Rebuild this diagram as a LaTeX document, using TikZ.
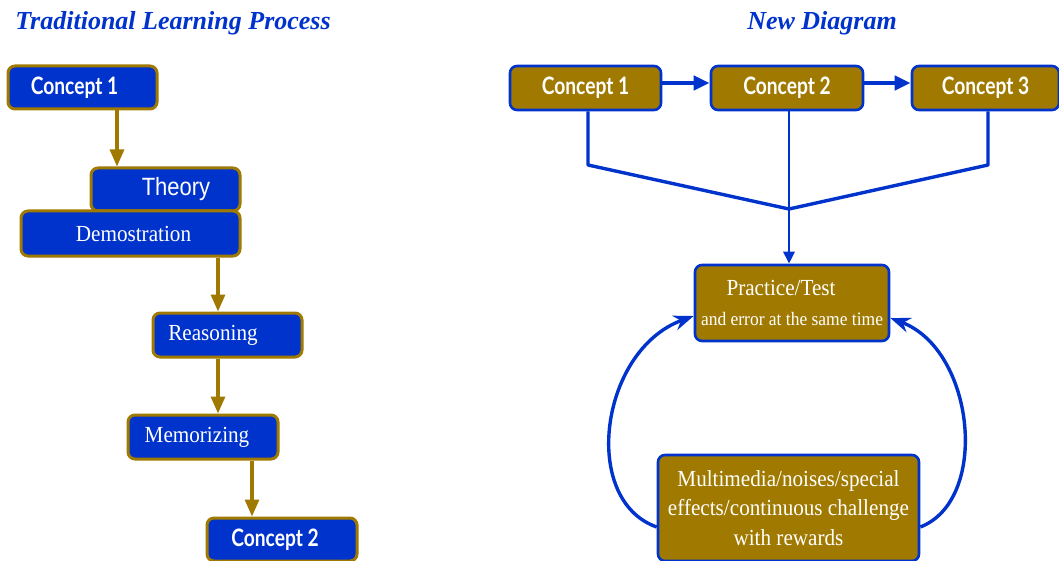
\documentclass[tikz,border=0pt]{standalone}
\usepackage{fontspec}
\setmainfont{Liberation Serif}
\newfontfamily\cfont[FakeStretch=0.8]{Lato}
\newfontfamily\sfont[FakeStretch=0.88]{Liberation Sans}
\newfontfamily\rfont[FakeStretch=0.92]{Liberation Serif}
\usetikzlibrary{arrows.meta}
\definecolor{bblue}{RGB}{0,51,204}
\definecolor{gold}{RGB}{160,122,0}
\tikzset{
  lbox/.style={draw=gold, line width=3pt, fill=bblue, rounded corners=7pt, inner sep=0pt, text=white, minimum height=43pt},
  rbox/.style={draw=bblue, line width=2.6pt, fill=gold, rounded corners=7pt, inner sep=0pt, text=white, minimum height=44pt},
  cfnt/.style={font=\cfont\bfseries\fontsize{24}{26}\selectfont},
  sfnt/.style={font=\sfont\fontsize{25}{28}\selectfont},
  rfnt/.style={font=\rfont\fontsize{23}{29.5}\selectfont},
  ttl/.style={text=bblue, font=\bfseries\itshape\fontsize{26}{30}\selectfont},
  garrow/.style={draw=gold, line width=3.2pt, -{Triangle[length=17pt,width=14pt]}},
  barrow/.style={draw=bblue, line width=4.5pt, -{Triangle[length=16pt,width=14pt]}},
  bline/.style={draw=bblue, line width=3.4pt},
  bcurve/.style={draw=bblue, line width=3.4pt, -{Stealth[length=20pt,width=15pt]}},
}
\begin{document}
\begin{tikzpicture}[x=1pt,y=-1pt]
\useasboundingbox (0,0) rectangle (1059,561);
\fill[white] (0,0) rectangle (1059,561);
% titles
\node[ttl] (t1) at (173,23) {Traditional Learning Process};
\node[ttl] (t2) at (822,23) {New Diagram};
% left column
\node[lbox, cfnt, minimum width=149pt] (c1) at (82.5,87.5) {Concept 1\hspace*{16pt}};
\node[lbox, sfnt, minimum width=149pt] (theory) at (165.5,189.5) {\hspace*{21pt}Theory};
\node[lbox, rfnt, minimum width=219pt, minimum height=45pt] (demo) at (130.5,233.5) {\hspace*{6pt}Demostration};
\node[lbox, rfnt, minimum width=149pt, minimum height=44pt] (rea) at (227.5,335) {Reasoning\hspace*{29pt}};
\node[lbox, rfnt, minimum width=150pt, minimum height=44pt] (mem) at (203,437) {Memorizing\hspace*{12pt}};
\node[lbox, cfnt, minimum width=150pt] (c2) at (282,539.5) {Concept 2\hspace*{14pt}};
\draw[garrow] ([xshift=34.5pt]c1.south) -- ([xshift=34.5pt]c1.south |- theory.north);
\draw[garrow] ([xshift=87.5pt]demo.south) -- ([xshift=87.5pt]demo.south |- rea.north);
\draw[garrow] ([xshift=-9.5pt]rea.south) -- ([xshift=-9.5pt]rea.south |- mem.north);
\draw[garrow] ([xshift=49pt]mem.south) -- ([xshift=49pt]mem.south |- c2.north);
% right column
\node[rbox, cfnt, minimum width=151pt] (rc1) at (585.5,88) {Concept 1};
\node[rbox, cfnt, minimum width=152pt] (rc2) at (787,88) {Concept 2};
\node[rbox, cfnt, minimum width=147pt] (rc3) at (985.5,88) {Concept 3};
\node[rbox, rfnt, minimum width=194pt, minimum height=76pt, align=center] (prac) at (792,303)
  {Practice/Test\hspace*{22pt}\\{\fontsize{19}{29.5}\selectfont and error at the same time}};
\node[rbox, rfnt, minimum width=261pt, minimum height=106pt, align=center] (multi) at (788.5,508)
  {Multimedia/noises/special\\effects/continuous challenge\\with rewards};
\draw[barrow] ([yshift=5pt]rc1.east) -- ([yshift=5pt]rc2.west);
\draw[barrow] ([yshift=5pt]rc2.east) -- ([yshift=5pt]rc3.west);
\coordinate (k1) at (588,165);
\coordinate (k3) at (988,165);
\coordinate (j) at (789,209);
\draw[bline, line join=round] ([xshift=2.5pt]rc1.south) -- (k1) -- (j) -- (k3) -- ([xshift=2.5pt]rc3.south);
\draw[draw=bblue, line width=2.8pt, -{Triangle[length=12pt,width=11pt]}] ([xshift=2pt]rc2.south) -- ([xshift=2pt]rc2.south |- prac.north);
\draw[bcurve] ([yshift=-19pt]multi.west) .. controls (580,500) and (600,350) .. ([yshift=-13pt]prac.west);
\draw[bcurve] ([yshift=-19pt]multi.east) .. controls (990,500) and (975,350) .. ([yshift=-15pt]prac.east);
\end{tikzpicture}
\end{document}
